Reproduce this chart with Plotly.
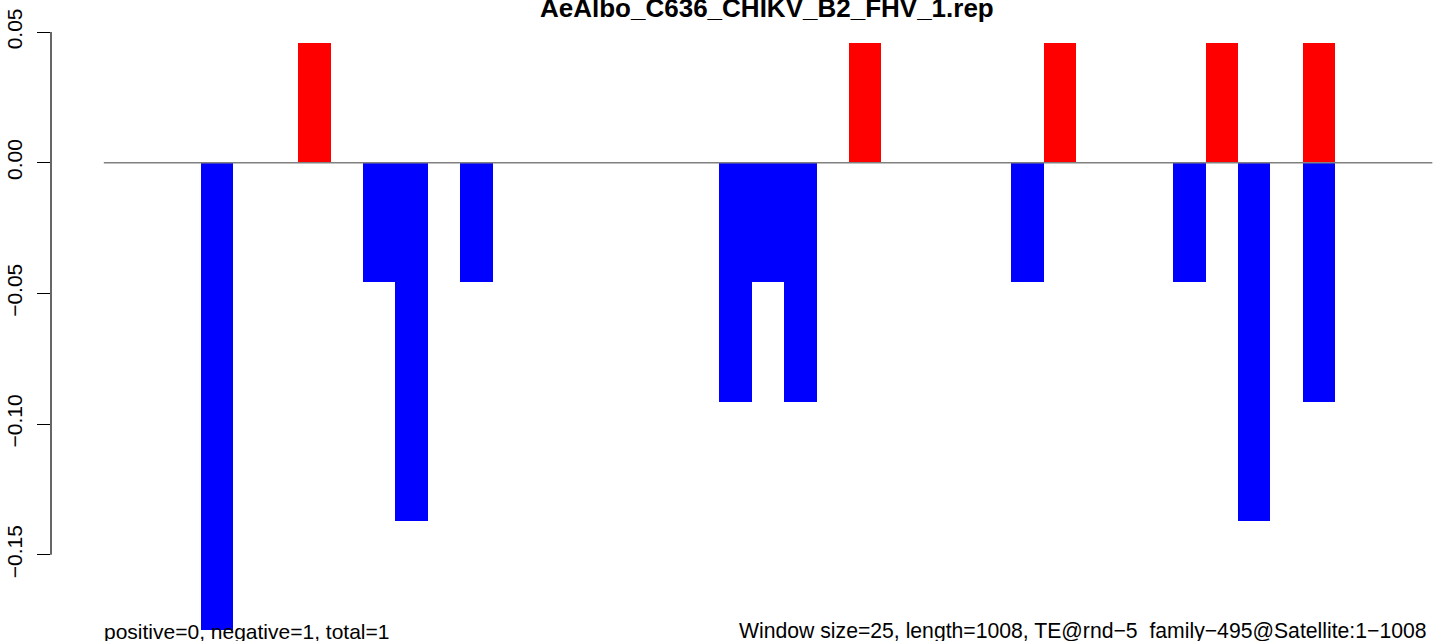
import plotly.graph_objects as go

# ---- data ----
title = "AeAlbo_C636_CHIKV_B2_FHV_1.rep"
n_bins = 41
pos_bins = [6, 23, 29, 34, 37]
pos_vals = [0.0457, 0.0457, 0.0457, 0.0457, 0.0457]
neg_bins = [3, 8, 9, 11, 19, 20, 21, 28, 33, 35, 37]
neg_vals = [-0.1828, -0.0457, -0.1371, -0.0457, -0.0914, -0.0457, -0.0914,
            -0.0457, -0.0457, -0.1371, -0.0914]
ytick_vals = [0.05, 0.0, -0.05, -0.10, -0.15]
ytick_text = ["0.05", "0.00", "\u22120.05", "\u22120.10", "\u22120.15"]
left_note = "positive=0, negative=1, total=1"
right_note = "Window size=25, length=1008, TE@rnd\u22125_family\u2212495@Satellite:1\u22121008"

FONT = "Liberation Sans, Arial, Helvetica, sans-serif"

fig = go.Figure()
fig.add_trace(go.Bar(x=pos_bins, y=pos_vals, width=1, offset=0,
                     marker=dict(color="#FF0000", line=dict(width=0)),
                     showlegend=False, hoverinfo="skip"))
fig.add_trace(go.Bar(x=neg_bins, y=neg_vals, width=1, offset=0,
                     marker=dict(color="#0000FF", line=dict(width=0)),
                     showlegend=False, hoverinfo="skip"))

# zero line
fig.add_shape(type="line", xref="x", yref="y", x0=0, x1=n_bins, y0=0, y1=0,
              line=dict(color="#808080", width=1.3), layer="above")
# R style y-axis line spanning the extreme ticks
fig.add_shape(type="line", xref="paper", yref="y", x0=0, x1=0,
              y0=min(ytick_vals), y1=max(ytick_vals),
              line=dict(color="black", width=1.2))

fig.add_annotation(text="<b>" + title + "</b>", xref="paper", yref="paper",
                   x=(767 - 51) / 1393, y=0.987, xanchor="center", yanchor="bottom",
                   yshift=-3, showarrow=False,
                   font=dict(family=FONT, size=26, color="black"))
fig.add_annotation(text=left_note, xref="x", yref="paper", x=0, y=-0.021,
                   xanchor="left", yanchor="bottom", showarrow=False,
                   xshift=-2, yshift=-2,
                   font=dict(family=FONT, size=21, color="black"))
fig.add_annotation(text=right_note, xref="x", yref="paper", x=n_bins, y=-0.021,
                   xanchor="right", yanchor="bottom", showarrow=False,
                   xshift=-3, yshift=-2,
                   font=dict(family=FONT, size=21.2, color="black"))

fig.update_layout(
    width=1444, height=641,
    margin=dict(l=51, r=0, t=14, b=11, pad=0),
    paper_bgcolor="white", plot_bgcolor="white",
    barmode="overlay", bargap=0,
    font=dict(family=FONT, size=21, color="black"),
    xaxis=dict(range=[-1.63, 41.36], visible=False, fixedrange=True),
    yaxis=dict(range=[-0.17877, 0.0569], showgrid=False, zeroline=False,
               showline=False, tickmode="array", tickvals=ytick_vals,
               ticktext=ytick_text, ticks="outside", ticklen=13, tickwidth=1.2,
               tickcolor="black", tickangle=-90, ticklabelstandoff=7,
               tickfont=dict(family=FONT, size=21, color="black")),
)

fig.write_html("out.html", config={"displayModeBar": False},
               post_script="document.body.style.margin='0px';"
                           "document.body.style.overflow='hidden';")
